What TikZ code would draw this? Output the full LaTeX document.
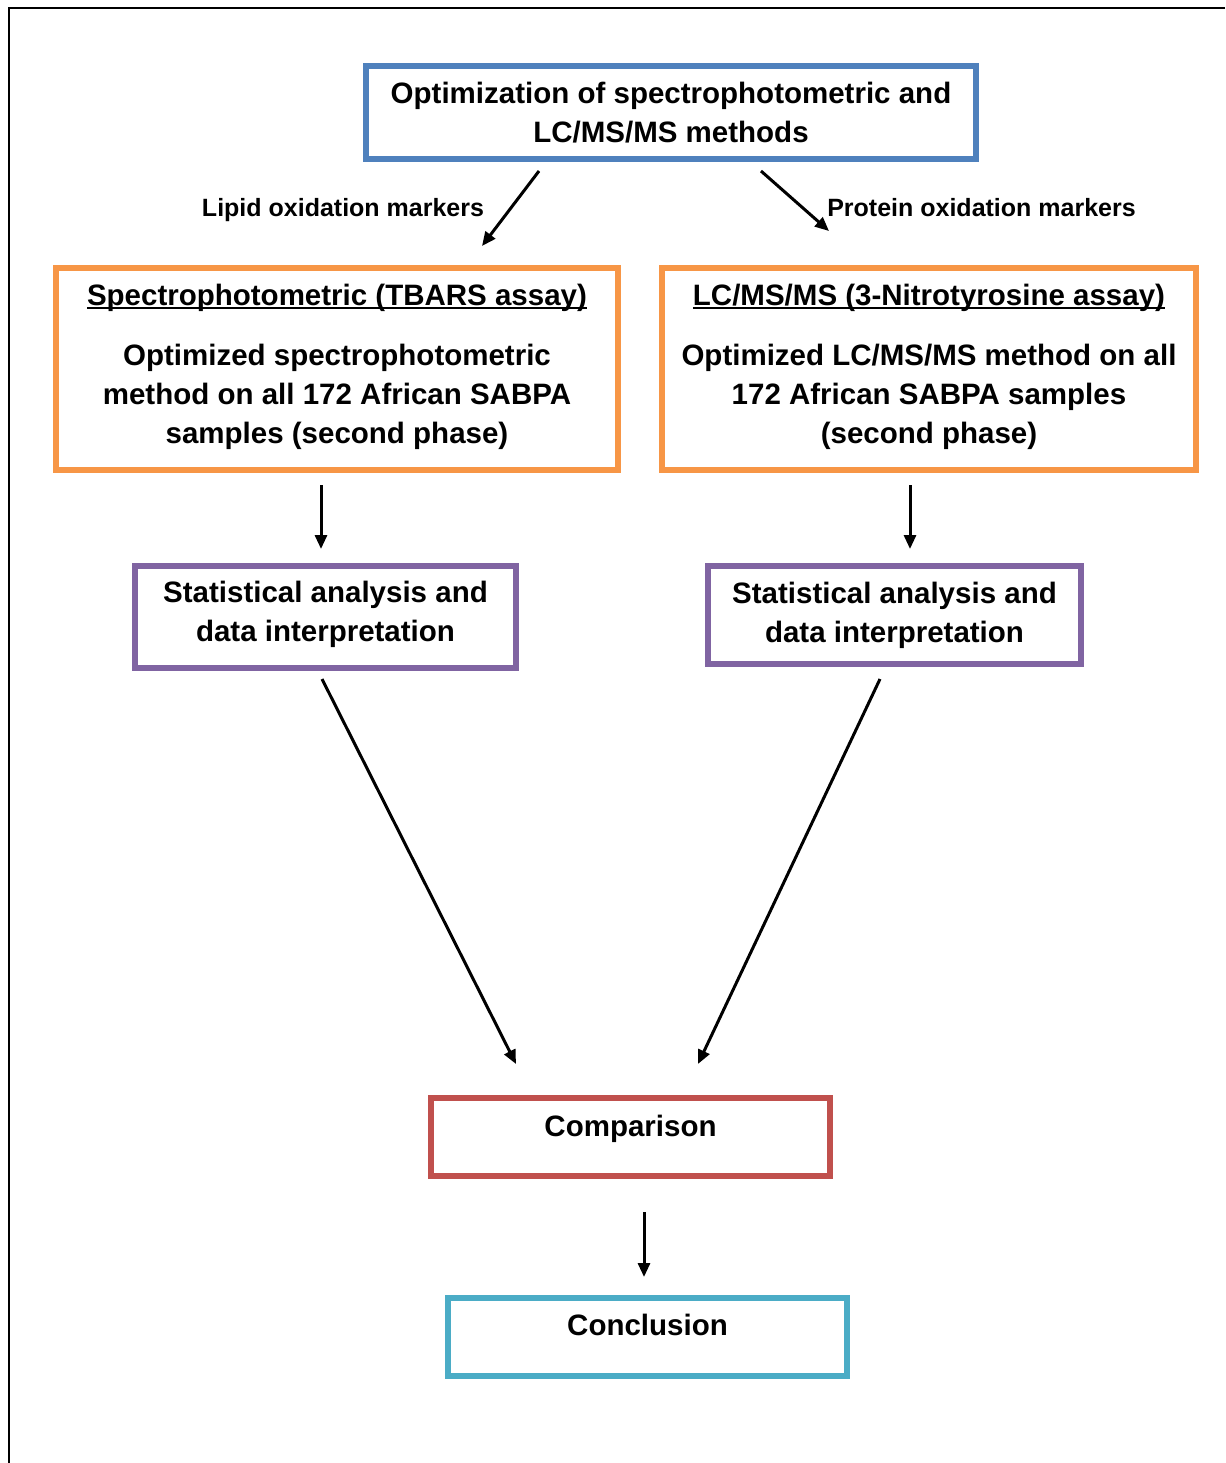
\documentclass[tikz,border=0pt]{standalone}
\usepackage{fontspec}
\setmainfont{Liberation Sans}
\usetikzlibrary{arrows.meta}

\definecolor{boxblue}{HTML}{4F81BD}
\definecolor{boxorange}{HTML}{F79646}
\definecolor{boxpurple}{HTML}{8064A2}
\definecolor{boxred}{HTML}{C0504D}
\definecolor{boxcyan}{HTML}{4BACC6}

% underline drawn as a rule just below the baseline
\newcommand\ulinetext[1]{\setbox0\hbox{#1}\rlap{\rule[-3.5pt]{\wd0}{2pt}}\box0}
% invisible strut that deepens the last line, lifting the text block
\newcommand\lowstrut[1]{\rule[-#1]{0pt}{#1}}

\tikzset{
  flowbox/.style={draw=#1, line width=5.5pt, rectangle, inner sep=0pt,
    align=center, font=\fontsize{29.5}{39}\selectfont\bfseries},
  sidelabel/.style={inner sep=0pt, anchor=base, font=\fontsize{25}{29}\selectfont\bfseries},
  flowarrow/.style={line width=3pt, -{Triangle[length=14pt,width=12pt]}},
}

\begin{document}
\begin{tikzpicture}[x=1pt, y=-1pt]
  \useasboundingbox (0,0) rectangle (1225,1463);
  % frame along the top and left edges
  \draw[line width=2pt] (1225,8) -- (9,8) -- (9,1463);

  % boxes
  \node[flowbox=boxblue, minimum width=610pt, minimum height=93pt]
    (opt) at (671,112.5) {Optimization of spectrophotometric and\\LC/MS/MS methods};
  \node[flowbox=boxorange, minimum width=562pt, minimum height=202pt]
    (tbars) at (337,369) {\ulinetext{Spectrophotometric (TBARS assay)}\\[21pt]
      Optimized spectrophotometric\\method on all 172 African SABPA\\samples (second phase)\lowstrut{10pt}};
  \node[flowbox=boxorange, minimum width=534pt, minimum height=202pt]
    (nitro) at (929,369) {\ulinetext{LC/MS/MS (3-Nitrotyrosine assay)}\\[21pt]
      Optimized LC/MS/MS method on all\\172 African SABPA samples\\(second phase)\lowstrut{10pt}};
  \node[flowbox=boxpurple, minimum width=381pt, minimum height=102pt]
    (statL) at (325.5,617) {Statistical analysis and\\data interpretation\lowstrut{12pt}};
  \node[flowbox=boxpurple, minimum width=373pt, minimum height=98pt]
    (statR) at (894.5,615) {Statistical analysis and\\data interpretation};
  \node[flowbox=boxred, minimum width=399pt, minimum height=78pt,
        text height=21pt, text depth=23pt]
    (comp) at (630.5,1137) {Comparison};
  \node[flowbox=boxcyan, minimum width=399pt, minimum height=78pt,
        text height=21pt, text depth=25pt]
    (concl) at (647.5,1337) {Conclusion};

  % side labels
  \node[sidelabel] (lipid) at (343,217) {Lipid oxidation markers};
  \node[sidelabel] (protein) at (981.5,217) {Protein oxidation markers};

  % connector end points
  \coordinate (optL) at (539,171);
  \coordinate (tbarsT) at (482,246);
  \coordinate (optR) at (761,171);
  \coordinate (nitroT) at (829,231);
  \coordinate (tbarsB) at (321,485);
  \coordinate (statLT) at (321,549);
  \coordinate (nitroB) at (910,485);
  \coordinate (statRT) at (910,549);
  \coordinate (statLB) at (322,679);
  \coordinate (compL) at (516,1064);
  \coordinate (statRB) at (880,679);
  \coordinate (compR) at (698,1064);
  \coordinate (compB) at (644,1212);
  \coordinate (conclT) at (644,1277);

  % connectors
  \draw[flowarrow] (optL) -- (tbarsT);
  \draw[flowarrow] (optR) -- (nitroT);
  \draw[flowarrow] (tbarsB) -- (statLT);
  \draw[flowarrow] (nitroB) -- (statRT);
  \draw[flowarrow] (statLB) -- (compL);
  \draw[flowarrow] (statRB) -- (compR);
  \draw[flowarrow] (compB) -- (conclT);
\end{tikzpicture}
\end{document}
